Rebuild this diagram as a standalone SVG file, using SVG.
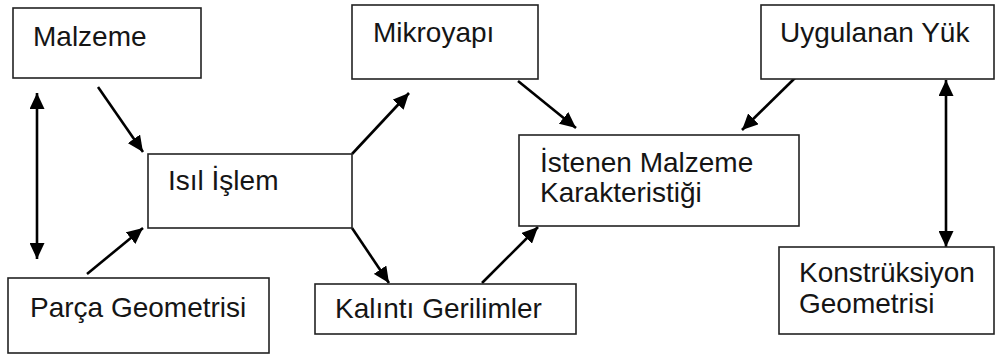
<svg xmlns="http://www.w3.org/2000/svg" width="995" height="354" viewBox="0 0 995 354">
<defs>
<style>
.box{fill:#fff;stroke:#222;stroke-width:1.6}
.t{font-family:"Liberation Sans",Arial,sans-serif;font-size:28px;fill:#151515}
.c{stroke:#000;stroke-width:2.6;fill:none;marker-end:url(#ah)}
.d{marker-start:url(#ah2)}
</style>
<marker id="ah" markerUnits="userSpaceOnUse" markerWidth="17" markerHeight="15" refX="16" refY="7.5" orient="auto" viewBox="0 0 17 15"><path d="M0,0 L16,7.5 L0,15 z" fill="#000"/></marker>
<marker id="ah2" markerUnits="userSpaceOnUse" markerWidth="17" markerHeight="15" refX="16" refY="7.5" orient="auto-start-reverse" viewBox="0 0 17 15"><path d="M0,0 L16,7.5 L0,15 z" fill="#000"/></marker>
</defs>
<rect width="995" height="354" fill="#fff"/>
<g id="connectors">
<line class="c" x1="98" y1="87" x2="143" y2="152"/>
<line class="c d" x1="37" y1="93" x2="37" y2="259"/>
<line class="c" x1="87" y1="274" x2="143" y2="228"/>
<line class="c" x1="352" y1="154" x2="409" y2="93"/>
<line class="c" x1="352" y1="228" x2="389" y2="283"/>
<line class="c" x1="518" y1="81" x2="576" y2="128"/>
<line class="c" x1="482" y1="283" x2="538" y2="227"/>
<line class="c" x1="795" y1="78" x2="742" y2="130"/>
<line class="c d" x1="946" y1="80" x2="946" y2="247"/>
</g>
<g id="malzeme"><rect class="box" x="13" y="8" width="188" height="70"/><text class="t" x="33" y="46">Malzeme</text></g>
<g id="parca"><rect class="box" x="8" y="278" width="261" height="75"/><text class="t" x="30" y="317">Parça Geometrisi</text></g>
<g id="isil"><rect class="box" x="148" y="154" width="204" height="74"/><text class="t" x="168" y="190">Isıl İşlem</text></g>
<g id="mikroyapi"><rect class="box" x="352" y="5" width="186" height="74"/><text class="t" x="373" y="42">Mikroyapı</text></g>
<g id="kalinti"><rect class="box" x="315" y="284" width="261" height="50"/><text class="t" x="335" y="318">Kalıntı Gerilimler</text></g>
<g id="istenen"><rect class="box" x="519" y="135" width="280" height="91"/><text class="t" x="540" y="172">İstenen Malzeme</text><text class="t" x="540" y="202">Karakteristiği</text></g>
<g id="uygulanan"><rect class="box" x="761" y="5" width="233" height="74"/><text class="t" x="780" y="42">Uygulanan Yük</text></g>
<g id="konstruksiyon"><rect class="box" x="779" y="247" width="215" height="87"/><text class="t" x="799" y="282">Konstrüksiyon</text><text class="t" x="799" y="313">Geometrisi</text></g>
</svg>
